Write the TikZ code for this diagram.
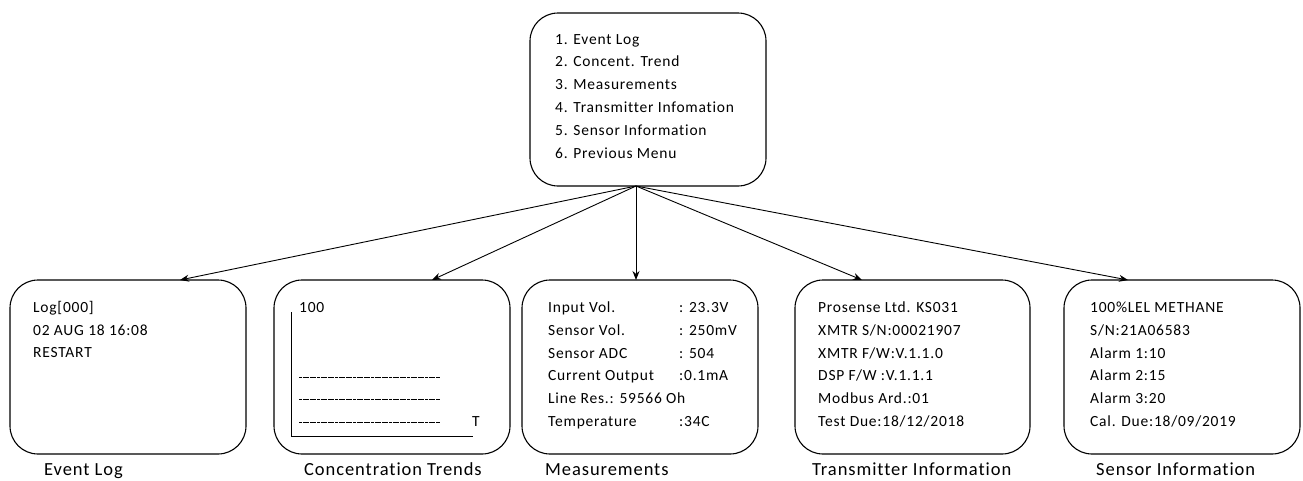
\documentclass[tikz,border=0pt]{standalone}
\usepackage{fontspec}
\setmainfont{Carlito}[LetterSpace=5,Ligatures=NoCommon]
\usetikzlibrary{arrows.meta}
\begin{document}
\begin{tikzpicture}[x=1pt,y=-1pt,
  box/.style={draw,line width=1.1pt,rounded corners=28pt},
  txt/.style={anchor=west,inner sep=0pt,text height=11pt,text depth=3pt,font=\fontsize{15.5}{18}\selectfont},
  captext/.style={anchor=west,inner sep=0pt,text height=13pt,text depth=4pt,font=\fontsize{18.5}{21}\selectfont},
  arr/.style={-{Stealth[length=9pt,width=7pt]},line width=0.9pt}]
\useasboundingbox (0,0) rectangle (1303,480);
% boxes
\draw[box] (530,13) rectangle (766,186);
\coordinate (mb) at (636,186);
\draw[box] (10,280) rectangle (246,454);
\draw[box] (274,280) rectangle (510,454);
\draw[box] (522,280) rectangle (758,454);
\draw[box] (795,280) rectangle (1030,454);
\draw[box] (1064,280) rectangle (1300,454);
\coordinate (t1) at (180,280);
\coordinate (t2) at (432,280);
\coordinate (t3) at (636,280);
\coordinate (t4) at (862,280);
\coordinate (t5) at (1128,280);
\draw[arr] (mb) -- (t1);
\draw[arr] (mb) -- (t2);
\draw[arr] (mb) -- (t3);
\draw[arr] (mb) -- (t4);
\draw[arr] (mb) -- (t5);
% menu text
\node[txt] (m1) at (555,40) {1. Event Log};
\node[txt] (m2) at (555,62) {2. Concent. Trend};
\node[txt] (m3) at (555,85) {3. Measurements};
\node[txt] (m4) at (555,108) {4. Transmitter Infomation};
\node[txt] (m5) at (555,131) {5. Sensor Information};
\node[txt] (m6) at (555,154) {6. Previous Menu};
% event log
\node[txt] (e1) at (33,308) {Log[000]};
\node[txt] (e2) at (33,331) {02 AUG 18 16:08};
\node[txt] (e3) at (33,353) {RESTART};
% conc
\draw[line width=0.9pt] (291,312) -- (291,436) -- (473,436);
\node[txt] (c1) at (299,308) {100};
\node[txt] (cT) at (472,422) {T};
\foreach \yy in {377,399,422}
  \draw[line width=0.7pt,dash pattern=on 3pt off 0.6pt] (299,\yy) -- (440,\yy);
% measurements
\node[txt] (a1) at (548,308) {Input Vol.};
\node[txt] (a2) at (548,331) {Sensor Vol.};
\node[txt] (a3) at (548,354) {Sensor ADC};
\node[txt] (a4) at (548,376) {Current Output};
\node[txt] (a5) at (548,399) {Line Res.: 59566 Oh};
\node[txt] (a6) at (548,422) {Temperature};
\node[txt] (b1) at (679,308) {: 23.3V};
\node[txt] (b2) at (679,331) {: 250mV};
\node[txt] (b3) at (679,354) {: 504};
\node[txt] (b4) at (679,376) {:0.1mA};
\node[txt] (b6) at (679,422) {:34C};
% transmitter
\node[txt] (x1) at (818,308) {Prosense Ltd. KS031};
\node[txt] (x2) at (818,331) {XMTR S/N:00021907};
\node[txt] (x3) at (818,354) {XMTR F/W:V.1.1.0};
\node[txt] (x4) at (818,376) {DSP F/W :V.1.1.1};
\node[txt] (x5) at (818,399) {Modbus Ard.:01};
\node[txt] (x6) at (818,422) {Test Due:18/12/2018};
% sensor
\node[txt] (s1) at (1090,308) {100\%LEL METHANE};
\node[txt] (s2) at (1090,331) {S/N:21A06583};
\node[txt] (s3) at (1090,354) {Alarm 1:10};
\node[txt] (s4) at (1090,376) {Alarm 2:15};
\node[txt] (s5) at (1090,399) {Alarm 3:20};
\node[txt] (s6) at (1090,422) {Cal. Due:18/09/2019};
% captions
\node[captext] (l1) at (44,471) {Event Log};
\node[captext] (l2) at (304,471) {Concentration Trends};
\node[captext] (l3) at (545,471) {Measurements};
\node[captext] (l4) at (812,471) {Transmitter Information};
\node[captext] (l5) at (1096,471) {Sensor Information};
\end{tikzpicture}
\end{document}
